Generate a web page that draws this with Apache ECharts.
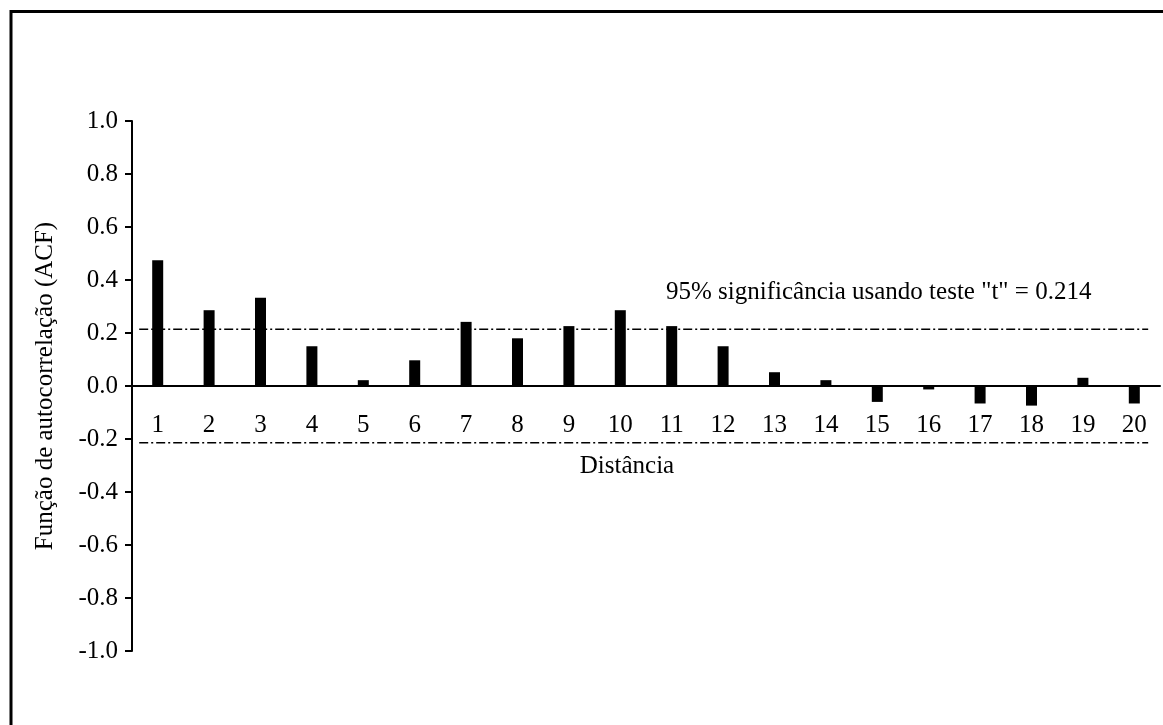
<!DOCTYPE html>
<html>
<head>
<meta charset="utf-8">
<script src="https://cdn.jsdelivr.net/npm/echarts@6/dist/echarts.min.js"></script>
<style>
  html, body { margin: 0; padding: 0; background: #fff; }
  #chart { width: 1163px; height: 725px; }
</style>
</head>
<body>
<div id="chart"></div>
<script>
// Lags (distância) and autocorrelation values
const lags = ['1','2','3','4','5','6','7','8','9','10','11','12','13','14','15','16','17','18','19','20'];
const acf = [0.475, 0.286, 0.333, 0.150, 0.022, 0.097, 0.242, 0.180, 0.226, 0.286,
             0.226, 0.150, 0.052, 0.022, -0.060, -0.013, -0.066, -0.074, 0.031, -0.066];
// 95% significance limit from the t test
const limit = 0.214;
const limitLabel = '95% significância usando teste "t" = 0.214';
// Horizontal extent of the limit lines, in lag units along the axis
const limitSpan = [0.14, 19.77];

const FONT = '"Liberation Serif", "Times New Roman", serif';
const FS = 25;

const GRID_TOP = 121, GRID_BOTTOM = 74, H = 725;
const plotH = H - GRID_TOP - GRID_BOTTOM;

const chart = echarts.init(document.getElementById('chart'), null, { renderer: 'canvas' });

chart.setOption({
  backgroundColor: '#ffffff',
  animation: false,
  grid: { left: 132, right: 3, top: GRID_TOP, bottom: GRID_BOTTOM, containLabel: false },
  xAxis: [
    {
      type: 'category',
      data: lags,
      boundaryGap: true,
      position: 'bottom',
      // lift the category axis (line and labels) up to y = 0
      offset: -plotH / 2,
      axisLine: { show: true, onZero: false, lineStyle: { color: '#000', width: 2 } },
      axisTick: { show: false },
      axisLabel: { color: '#000', fontFamily: FONT, fontSize: FS, margin: 27 },
      splitLine: { show: false }
    },
    {
      type: 'value',
      min: 0,
      max: lags.length,
      show: false
    }
  ],
  yAxis: {
    type: 'value',
    min: -1,
    max: 1,
    interval: 0.2,
    axisLine: { show: true, lineStyle: { color: '#000', width: 2 } },
    axisTick: { show: true, length: 7, lineStyle: { color: '#000', width: 2 } },
    axisLabel: {
      color: '#000', fontFamily: FONT, fontSize: FS, margin: 14,
      formatter: v => v.toFixed(1)
    },
    splitLine: { show: false },
    name: 'Função de autocorrelação (ACF)',
    nameLocation: 'middle',
    nameGap: 74,
    nameRotate: 90,
    nameTextStyle: { color: '#000', fontFamily: FONT, fontSize: FS }
  },
  series: [
    {
      type: 'bar',
      data: acf,
      barWidth: 11,
      itemStyle: { color: '#000' }
    },
    {
      type: 'line',
      xAxisIndex: 1,
      data: [[limitSpan[0], limit], [limitSpan[1], limit]],
      symbol: 'none',
      lineStyle: { color: '#000', width: 1.5, type: [9, 3, 2, 3] },
      z: 3
    },
    {
      type: 'line',
      xAxisIndex: 1,
      data: [[limitSpan[0], -limit], [limitSpan[1], -limit]],
      symbol: 'none',
      lineStyle: { color: '#000', width: 1.5, type: [9, 3, 2, 3] },
      z: 3
    }
  ],
  graphic: [
    {
      type: 'rect',
      shape: { x: 11, y: 11.5, width: 2000, height: 2000 },
      style: { fill: 'none', stroke: '#000', lineWidth: 3 },
      silent: true
    },
    {
      type: 'text',
      x: 627, y: 466,
      style: {
        text: 'Distância', fill: '#000', font: FS + 'px ' + FONT,
        textAlign: 'center', textVerticalAlign: 'middle'
      }
    },
    {
      type: 'text',
      x: 666, y: 292,
      style: {
        text: limitLabel, fill: '#000', font: FS + 'px ' + FONT,
        textAlign: 'left', textVerticalAlign: 'middle'
      }
    }
  ]
});
</script>
</body>
</html>
